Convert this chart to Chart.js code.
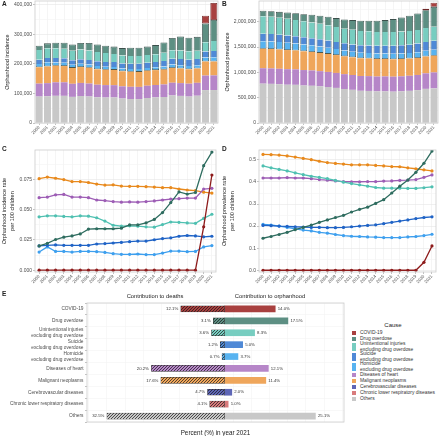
<!DOCTYPE html>
<html>
<head>
<meta charset="utf-8">
<script src="https://cdn.jsdelivr.net/npm/chart.js@4.4.1/dist/chart.umd.min.js"></script>
<style>
  body { margin: 0; background: #fff; }
  #wrap { position: relative; width: 440px; height: 436px; overflow: hidden; font-family: "Liberation Sans", Arial, sans-serif; }
  canvas { position: absolute; }
  .txt { position: absolute; white-space: nowrap; color: #222; line-height: 1; }
  .tag { font-weight: bold; font-size: 6.5px; }
  .ptitle { font-size: 5.8px; transform: translate(-50%, -50%); }
  #legend { position: absolute; left: 351px; top: 330px; }
  .row { display: flex; align-items: center; }
  .key { width: 6px; box-sizing: border-box; border: 0.5px solid #fff; align-self: stretch; }
  .ltxt { font-size: 4.9px; line-height: 5.6px; color: #333; padding-left: 3px; white-space: nowrap; }
</style>
</head>
<body>
<div id="wrap">
  <canvas id="chartA" width="220" height="146" style="left:0;top:0"></canvas>
  <canvas id="chartB" width="220" height="146" style="left:220px;top:0"></canvas>
  <canvas id="chartC" width="220" height="144" style="left:0;top:146px"></canvas>
  <canvas id="chartD" width="220" height="144" style="left:220px;top:146px"></canvas>
  <canvas id="chartE" width="350" height="146" style="left:0;top:290px"></canvas>

  <div class="txt tag" style="left:2px;top:1px">A</div>
  <div class="txt tag" style="left:222px;top:1px">B</div>
  <div class="txt tag" style="left:2px;top:146px">C</div>
  <div class="txt tag" style="left:222px;top:146px">D</div>
  <div class="txt tag" style="left:2px;top:291px">E</div>

  <div class="txt ptitle" style="left:155px;top:297px">Contribution to deaths</div>
  <div class="txt ptitle" style="left:270px;top:297px">Contribution to orphanhood</div>
  <div class="txt ptitle" style="left:393px;top:325px;font-size:6px">Cause</div>
  <div id="legend"></div>
</div>
<script>
// ---- data ----
const years = ['2000', '2001', '2002', '2003', '2004', '2005', '2006', '2007', '2008', '2009', '2010',
  '2011', '2012', '2013', '2014', '2015', '2016', '2017', '2018', '2019', '2020', '2021'];

// Panel A: orphanhood incidence (stacked)
const incOthers = [89200, 90300, 91800, 91700, 88200, 91100, 89500, 86900, 86000, 86300, 82700, 81100, 80800, 84400, 86500, 87800, 93000, 91500, 89200, 92100, 111100, 111300];
const incHeart = [43800, 44200, 45600, 45800, 44200, 44200, 43800, 42400, 42000, 41500, 41100, 41200, 41100, 41500, 41800, 42400, 43000, 43200, 43600, 43600, 49100, 49500];
const incMalignant = [55300, 56300, 55600, 54800, 53600, 53600, 53000, 52000, 51500, 51600, 50800, 50700, 50700, 50400, 50200, 49900, 49900, 49100, 48500, 48100, 47200, 46600];
const incHomicide = [11000, 14100, 11300, 11300, 11000, 11300, 11300, 11200, 10700, 10000, 9600, 9600, 9800, 9400, 9400, 10400, 11500, 11500, 11200, 11300, 14100, 14900];
const incSuicide = [14700, 15000, 15300, 15000, 15000, 15000, 15000, 15800, 16100, 16400, 16800, 17200, 17600, 17600, 18400, 19100, 19600, 20500, 21000, 20700, 20100, 20500];
const incUnint = [32300, 32900, 32900, 32500, 32300, 32900, 32600, 31700, 29700, 27200, 26600, 26800, 26600, 26200, 26000, 27600, 29100, 28900, 28500, 28300, 31300, 33800];
const incDrug = [14700, 16200, 18500, 19900, 20700, 21900, 24800, 25000, 25000, 25000, 25400, 27400, 27400, 28500, 30700, 34800, 40900, 47300, 46000, 46900, 63100, 71400];
const incCovid = [0, 0, 0, 0, 0, 0, 0, 0, 0, 0, 0, 0, 0, 0, 0, 0, 0, 0, 0, 0, 26200, 57500];

// Panel B: orphanhood prevalence (stacked)
const prevOthers = [777000, 773000, 766000, 756000, 754000, 741000, 735000, 724000, 711000, 693000, 672000, 655000, 636000, 633000, 625000, 625000, 619000, 625000, 635000, 649000, 674000, 684000];
const prevHeart = [305000, 305000, 305000, 307000, 305000, 305000, 303000, 300000, 298000, 296000, 293000, 293000, 293000, 293000, 293000, 295000, 296000, 297000, 298000, 300000, 307000, 315000];
const prevMalignant = [383000, 383000, 381000, 378000, 374000, 370000, 366000, 361000, 356000, 353000, 351000, 349000, 349000, 349000, 347000, 345000, 343000, 342000, 339000, 336000, 332000, 329000];
const prevHomicide = [152000, 150000, 146000, 142000, 137000, 133000, 130000, 126000, 123000, 118000, 115000, 112000, 112000, 110000, 110000, 108000, 108000, 108000, 110000, 112000, 115000, 119000];
const prevSuicide = [148000, 147000, 146000, 145000, 144000, 143000, 142000, 142000, 141000, 141000, 142000, 144000, 146000, 148000, 150000, 154000, 158000, 163000, 166000, 171000, 174000, 177000];
const prevUnint = [345000, 339000, 334000, 329000, 322000, 316000, 311000, 307000, 303000, 297000, 291000, 287000, 283000, 278000, 274000, 272000, 272000, 272000, 271000, 271000, 273000, 276000];
const prevDrug = [106000, 112000, 118000, 126000, 134000, 142000, 150000, 158000, 166000, 174000, 182000, 193000, 201000, 209000, 221000, 234000, 256000, 278000, 299000, 324000, 354000, 394000];
const prevCovid = [0, 0, 0, 0, 0, 0, 0, 0, 0, 0, 0, 0, 0, 0, 0, 0, 0, 0, 0, 0, 26000, 80000];

// Panel C: incidence rate per 100 children
const rateIncMalignant = [0.0758, 0.0771, 0.0761, 0.0750, 0.0734, 0.0734, 0.0726, 0.0713, 0.0705, 0.0707, 0.0696, 0.0694, 0.0694, 0.0691, 0.0688, 0.0683, 0.0683, 0.0672, 0.0664, 0.0659, 0.0646, 0.0638];
const rateIncHeart = [0.0600, 0.0605, 0.0624, 0.0627, 0.0605, 0.0605, 0.0600, 0.0581, 0.0576, 0.0568, 0.0563, 0.0565, 0.0563, 0.0568, 0.0573, 0.0581, 0.0589, 0.0592, 0.0597, 0.0597, 0.0672, 0.0678];
const rateIncUnint = [0.0442, 0.0450, 0.0450, 0.0445, 0.0442, 0.0450, 0.0447, 0.0434, 0.0407, 0.0372, 0.0364, 0.0367, 0.0364, 0.0359, 0.0356, 0.0378, 0.0399, 0.0396, 0.0391, 0.0388, 0.0429, 0.0463];
const rateIncDrug = [0.0201, 0.0222, 0.0254, 0.0273, 0.0284, 0.0300, 0.0340, 0.0343, 0.0343, 0.0343, 0.0348, 0.0375, 0.0375, 0.0391, 0.0420, 0.0477, 0.0560, 0.0648, 0.0630, 0.0643, 0.0865, 0.0978];
const rateIncSuicide = [0.0201, 0.0206, 0.0209, 0.0206, 0.0206, 0.0206, 0.0206, 0.0217, 0.0220, 0.0225, 0.0230, 0.0236, 0.0241, 0.0241, 0.0252, 0.0262, 0.0268, 0.0281, 0.0287, 0.0284, 0.0276, 0.0281];
const rateIncHomicide = [0.0150, 0.0193, 0.0155, 0.0155, 0.0150, 0.0155, 0.0155, 0.0153, 0.0147, 0.0137, 0.0131, 0.0131, 0.0134, 0.0129, 0.0129, 0.0142, 0.0158, 0.0158, 0.0153, 0.0155, 0.0193, 0.0204];
const rateIncCovid = [0, 0, 0, 0, 0, 0, 0, 0, 0, 0, 0, 0, 0, 0, 0, 0, 0, 0, 0, 0, 0.0359, 0.0788];

// Panel D: prevalence rate per 100 children
const ratePrevMalignant = [0.525, 0.524, 0.522, 0.518, 0.513, 0.507, 0.501, 0.494, 0.488, 0.484, 0.481, 0.478, 0.478, 0.478, 0.475, 0.473, 0.470, 0.469, 0.464, 0.460, 0.455, 0.450];
const ratePrevUnint = [0.473, 0.464, 0.457, 0.450, 0.441, 0.433, 0.426, 0.421, 0.415, 0.407, 0.399, 0.393, 0.387, 0.381, 0.375, 0.372, 0.372, 0.372, 0.371, 0.371, 0.374, 0.378];
const ratePrevHeart = [0.418, 0.418, 0.418, 0.420, 0.418, 0.418, 0.415, 0.411, 0.408, 0.405, 0.402, 0.401, 0.401, 0.402, 0.402, 0.404, 0.405, 0.407, 0.408, 0.411, 0.421, 0.432];
const ratePrevDrug = [0.145, 0.153, 0.162, 0.172, 0.184, 0.194, 0.205, 0.217, 0.228, 0.239, 0.249, 0.264, 0.276, 0.286, 0.303, 0.320, 0.350, 0.381, 0.409, 0.444, 0.485, 0.540];
const ratePrevSuicide = [0.203, 0.202, 0.200, 0.199, 0.197, 0.196, 0.194, 0.194, 0.193, 0.193, 0.194, 0.197, 0.200, 0.203, 0.206, 0.211, 0.217, 0.223, 0.228, 0.234, 0.239, 0.242];
const ratePrevHomicide = [0.208, 0.205, 0.200, 0.194, 0.188, 0.182, 0.178, 0.172, 0.168, 0.162, 0.157, 0.154, 0.153, 0.151, 0.150, 0.148, 0.148, 0.148, 0.151, 0.153, 0.157, 0.163];
const ratePrevCovid = [0, 0, 0, 0, 0, 0, 0, 0, 0, 0, 0, 0, 0, 0, 0, 0, 0, 0, 0, 0, 0.036, 0.110];

// Panel E: percent contribution in 2021
const causes = ['COVID-19', 'Drug overdose', ['Unintentional injuries', 'excluding drug overdose'],
  ['Suicide', 'excluding drug overdose'], ['Homicide', 'excluding drug overdose'], 'Diseases of heart',
  'Malignant neoplasms', 'Cerebrovascular diseases', 'Chronic lower respiratory diseases', 'Others'];
const deathsPct = [12.1, 3.1, 3.6, 1.2, 0.7, 20.2, 17.6, 4.7, 4.1, 32.5];
const orphanPct = [14.0, 17.5, 8.3, 5.0, 3.7, 12.1, 11.4, 2.0, 1.0, 25.1];

// ---- colours ----
const fillCol = {
  covid: '#a8403f', drug: '#5d8f83', unint: '#77cdc0', suicide: '#4f89d6', homicide: '#58b3f0',
  heart: '#b686c8', malignant: '#efa65b', cerebro: '#5e66b6', chronic: '#d87b7c', others: '#c8c8c8'
};
const lineCol = {
  covid: '#8e1c1c', drug: '#2e6c5f', unint: '#4fc0b1', suicide: '#1f63c6', homicide: '#3d9fee',
  heart: '#9d5db5', malignant: '#e8891c'
};
const causeColors = [fillCol.covid, fillCol.drug, fillCol.unint, fillCol.suicide, fillCol.homicide,
  fillCol.heart, fillCol.malignant, fillCol.cerebro, fillCol.chronic, fillCol.others];

Chart.defaults.font.family = '"Liberation Sans", Arial, sans-serif';
const TICK = '#4d4d4d';

// draws the grey panel border like ggplot
const framePlugin = {
  id: 'frame',
  afterDraw(chart) {
    const { ctx, chartArea: a } = chart;
    ctx.save();
    ctx.strokeStyle = '#cccccc';
    ctx.lineWidth = 0.8;
    ctx.strokeRect(a.left, a.top, a.right - a.left, a.bottom - a.top);
    ctx.restore();
  }
};

function fixAxis(size) {
  return s => {
    if (s.isHorizontal()) s.height = size; else s.width = size;
    s.paddingTop = s.paddingBottom = s.paddingLeft = s.paddingRight = 0;
  };
}

function isMajor(v, major) {
  return Math.abs(v / major - Math.round(v / major)) < 1e-6;
}

function yearAxis(height) {
  return {
    offset: true,
    grid: { offset: false, color: '#eeeeee', lineWidth: 0.6, tickLength: 2, tickColor: '#999' },
    border: { display: false },
    ticks: { font: { size: 4.3 }, color: TICK, minRotation: 45, maxRotation: 45, autoSkip: false, padding: 0 },
    afterFit: fixAxis(height)
  };
}

function valueAxis(opts) {
  const major = opts.step;
  return {
    min: opts.min, max: opts.max, stacked: opts.stacked,
    grid: {
      color: c => (isMajor(c.tick.value, major) ? '#e6e6e6' : '#f3f3f3'),
      lineWidth: 0.6, tickLength: 2,
      tickColor: c => (isMajor(c.tick.value, major) ? '#999' : 'rgba(0,0,0,0)')
    },
    border: { display: false },
    ticks: {
      stepSize: major / 2, includeBounds: false, autoSkip: false, font: { size: 5 }, color: TICK, padding: 1,
      callback: v => (isMajor(v, major) ? opts.fmt(v) : '')
    },
    title: {
      display: true, text: opts.title, color: '#222',
      font: { size: 5.5, lineHeight: opts.lh || 1.2 }, padding: { top: opts.tpad, bottom: 0 }
    },
    afterFit: fixAxis(opts.width)
  };
}

function barPanel(id, stacks, yOpts) {
  const edge = '#3b4f4b';
  new Chart(document.getElementById(id), {
    type: 'bar',
    data: {
      labels: years,
      datasets: stacks.map(s => ({
        label: s.name,
        data: s.data.map(v => v || null),
        backgroundColor: s.color,
        borderColor: s.edge || edge,
        borderWidth: s.bw || 0,
        borderSkipped: false,
        barPercentage: 0.84,
        categoryPercentage: 1
      }))
    },
    options: {
      responsive: false, animation: false,
      layout: { padding: { top: 1, right: 2, left: 0, bottom: 0 } },
      plugins: { legend: { display: false }, tooltip: { enabled: false } },
      scales: {
        x: Object.assign(yearAxis(23), { stacked: true }),
        // min is left to beginAtZero so that the step size is honoured
        y: valueAxis(Object.assign({ stacked: true, fmt: v => v.toLocaleString('en-US') }, yOpts))
      }
    },
    plugins: [framePlugin]
  });
}

function stacksOf(o, h, m, ho, su, un, dr, co) {
  return [
    { name: 'Others', data: o, color: fillCol.others },
    { name: 'Diseases of heart', data: h, color: fillCol.heart },
    { name: 'Malignant neoplasms', data: m, color: fillCol.malignant },
    { name: 'Homicide', data: ho, color: fillCol.homicide, bw: { left: 0.8, right: 0.8, bottom: 0.8, top: 0 } },
    { name: 'Suicide', data: su, color: fillCol.suicide, bw: { left: 0.8, right: 0.8, bottom: 0, top: 0 } },
    { name: 'Unintentional injuries', data: un, color: fillCol.unint, bw: { left: 0.8, right: 0.8, bottom: 0, top: 0 } },
    { name: 'Drug overdose', data: dr, color: fillCol.drug, bw: { left: 0.8, right: 0.8, bottom: 0, top: 0.8 } },
    { name: 'COVID-19', data: co, color: fillCol.covid, edge: '#6e2727', bw: 0.8 }
  ];
}

barPanel('chartA', stacksOf(incOthers, incHeart, incMalignant, incHomicide, incSuicide, incUnint, incDrug, incCovid),
  { max: 412000, step: 100000, title: 'Orphanhood incidence', width: 35, tpad: 4 });
barPanel('chartB', stacksOf(prevOthers, prevHeart, prevMalignant, prevHomicide, prevSuicide, prevUnint, prevDrug, prevCovid),
  { max: 2410000, step: 500000, title: 'Orphanhood prevalence', width: 39, tpad: 4 });

function linePanel(id, series, yOpts) {
  new Chart(document.getElementById(id), {
    type: 'line',
    data: {
      labels: years,
      datasets: series.map(s => ({
        label: s.name, data: s.data,
        borderColor: s.color, backgroundColor: s.color,
        borderWidth: 1.3, pointRadius: 1.6, pointBorderWidth: 0, tension: 0
      }))
    },
    options: {
      responsive: false, animation: false,
      layout: { padding: { top: 1, right: 2, left: 0, bottom: 0 } },
      plugins: { legend: { display: false }, tooltip: { enabled: false } },
      scales: {
        x: yearAxis(18),
        y: valueAxis(Object.assign({ stacked: false }, yOpts))
      }
    },
    plugins: [framePlugin]
  });
}

function linesOf(co, dr, un, su, ho, h, m) {
  return [
    { name: 'COVID-19', data: co, color: lineCol.covid },
    { name: 'Drug overdose', data: dr, color: lineCol.drug },
    { name: 'Unintentional injuries', data: un, color: lineCol.unint },
    { name: 'Suicide', data: su, color: lineCol.suicide },
    { name: 'Homicide', data: ho, color: lineCol.homicide },
    { name: 'Diseases of heart', data: h, color: lineCol.heart },
    { name: 'Malignant neoplasms', data: m, color: lineCol.malignant }
  ];
}

linePanel('chartC', linesOf(rateIncCovid, rateIncDrug, rateIncUnint, rateIncSuicide, rateIncHomicide, rateIncHeart, rateIncMalignant),
  { min: -0.0015, max: 0.0995, step: 0.025, fmt: v => v.toFixed(3), width: 35, tpad: 1.3, lh: 1.33,
    title: ['Orphanhood incidence rate', 'per 100 children'] });
linePanel('chartD', linesOf(ratePrevCovid, ratePrevDrug, ratePrevUnint, ratePrevSuicide, ratePrevHomicide, ratePrevHeart, ratePrevMalignant),
  { min: -0.008, max: 0.545, step: 0.1, fmt: v => v.toFixed(1), width: 39, tpad: 1.3, lh: 1.33,
    title: ['Orphanhood prevalence rate', 'per 100 children'] });

// ---- panel E ----
function hatch(color) {
  const c = document.createElement('canvas');
  c.width = 3; c.height = 3;
  const g = c.getContext('2d');
  g.fillStyle = color; g.fillRect(0, 0, 3, 3);
  g.strokeStyle = 'rgba(25,25,25,0.9)'; g.lineWidth = 0.8;
  g.beginPath();
  g.moveTo(0, 3); g.lineTo(3, 0);
  g.moveTo(-1, 1); g.lineTo(1, -1);
  g.moveTo(2, 4); g.lineTo(4, 2);
  g.stroke();
  return g.createPattern(c, 'repeat');
}

const valueLabels = {
  id: 'valueLabels',
  afterDatasetsDraw(chart) {
    const ctx = chart.ctx;
    ctx.save();
    ctx.font = '4.3px "Liberation Sans", Arial, sans-serif';
    ctx.fillStyle = '#333';
    ctx.textBaseline = 'middle';
    ctx.textAlign = 'right';
    chart.getDatasetMeta(0).data.forEach((bar, i) => ctx.fillText(deathsPct[i].toFixed(1) + '%', bar.x - 2.5, bar.y));
    ctx.textAlign = 'left';
    chart.getDatasetMeta(1).data.forEach((bar, i) => ctx.fillText(orphanPct[i].toFixed(1) + '%', bar.x + 2.5, bar.y));
    ctx.restore();
  }
};

new Chart(document.getElementById('chartE'), {
  type: 'bar',
  data: {
    labels: causes,
    datasets: [
      { label: 'Deaths', data: deathsPct.map(v => -v), backgroundColor: causeColors.map(hatch),
        borderColor: '#333', borderWidth: 0.5, borderSkipped: false, barThickness: 6 },
      { label: 'Orphanhood', data: orphanPct, backgroundColor: causeColors,
        borderWidth: 0, barThickness: 6 }
    ]
  },
  options: {
    indexAxis: 'y', responsive: false, animation: false,
    layout: { padding: { top: 13, right: 6, left: 0, bottom: 0 } },
    plugins: { legend: { display: false }, tooltip: { enabled: false } },
    scales: {
      x: {
        stacked: true, min: -38, max: 33,
        grid: {
          color: c => (c.tick.value === 0 ? '#cfcfcf' : (c.tick.value % 5 === 0 ? '#e6e6e6' : '#f3f3f3')),
          lineWidth: 0.6, tickLength: 2,
          tickColor: c => (c.tick.value % 5 === 0 ? '#999' : 'rgba(0,0,0,0)')
        },
        border: { display: false },
        ticks: { stepSize: 2.5, includeBounds: false, font: { size: 5 }, color: TICK, padding: 0,
          callback: v => (v % 5 === 0 ? String(Math.abs(v)) : '') },
        title: { display: true, text: 'Percent (%) in year 2021', color: '#222',
          font: { size: 6.3, lineHeight: 1 }, padding: 0 },
        afterFit: fixAxis(14)
      },
      y: {
        stacked: true,
        grid: { color: '#f3f3f3', lineWidth: 0.6, tickLength: 2, tickColor: '#999' },
        border: { display: false },
        ticks: { font: { size: 4.8, lineHeight: 1.25 }, color: TICK, padding: 1.5, autoSkip: false },
        afterFit: fixAxis(87)
      }
    }
  },
  plugins: [framePlugin, valueLabels]
});

// ---- legend ----
const legend = document.getElementById('legend');
causes.forEach((name, i) => {
  const lines = Array.isArray(name) ? name : [name];
  const row = document.createElement('div');
  row.className = 'row';
  row.style.height = (lines.length > 1 ? 10 : 6) + 'px';
  const key = document.createElement('div');
  key.className = 'key';
  key.style.background = causeColors[i];
  const t = document.createElement('div');
  t.className = 'ltxt';
  t.innerHTML = lines.join('<br>');
  row.appendChild(key);
  row.appendChild(t);
  legend.appendChild(row);
});
</script>
</body>
</html>
